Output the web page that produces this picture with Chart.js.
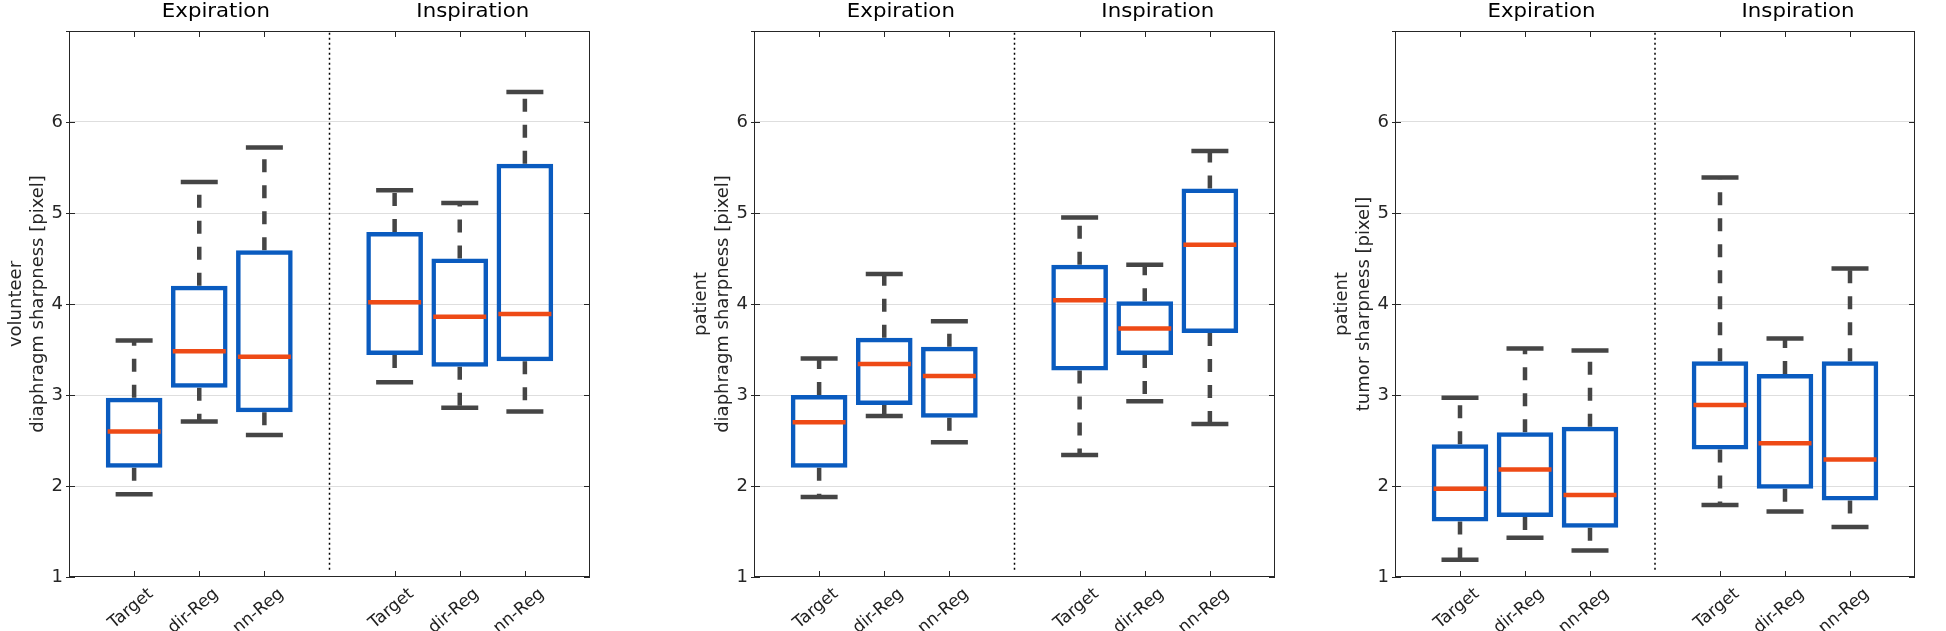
<!DOCTYPE html>
<html>
<head>
<meta charset="utf-8">
<title>sharpness boxplots</title>
<script src="https://cdn.jsdelivr.net/npm/chart.js@4.4.1/dist/chart.umd.min.js"></script>
<style>
  body { margin: 0; background: #fff; width: 1946px; height: 631px; position: relative; overflow: hidden; }
  canvas { position: absolute; top: 0; }
</style>
</head>
<body>
<canvas id="volunteerDia" width="621" height="631" style="left:0px"></canvas>
<canvas id="patientDia" width="621" height="631" style="left:685px"></canvas>
<canvas id="patientTumor" width="620" height="631" style="left:1326px"></canvas>
<script>
// Data
const methods = ['Target', 'dir-Reg', 'nn-Reg', 'Target', 'dir-Reg', 'nn-Reg'];
// slot on the x axis for each box, slot 4 is the gap between the two phases
const slot = [1, 2, 3, 5, 6, 7];
const phases = ['Expiration', 'Inspiration'];

// volunteer - diaphragm sharpness [pixel]
const volDiaMin = [1.91, 2.71, 2.56, 3.14, 2.86, 2.82];
const volDiaQ1  = [2.20, 3.08, 2.81, 3.44, 3.31, 3.37];
const volDiaMed = [2.60, 3.48, 3.42, 4.02, 3.86, 3.89];
const volDiaQ3  = [2.97, 4.20, 4.59, 4.79, 4.50, 5.54];
const volDiaMax = [3.60, 5.34, 5.72, 5.25, 5.11, 6.33];

// patient - diaphragm sharpness [pixel]
const patDiaMin = [1.88, 2.77, 2.48, 2.34, 2.93, 2.68];
const patDiaQ1  = [2.20, 2.89, 2.75, 3.27, 3.44, 3.68];
const patDiaMed = [2.70, 3.34, 3.21, 4.04, 3.73, 4.65];
const patDiaQ3  = [3.00, 3.63, 3.53, 4.43, 4.03, 5.27];
const patDiaMax = [3.40, 4.33, 3.81, 4.95, 4.43, 5.68];

// patient - tumor sharpness [pixel]
const patTumMin = [1.19, 1.43, 1.29, 1.79, 1.72, 1.55];
const patTumQ1  = [1.61, 1.66, 1.54, 2.40, 1.97, 1.84];
const patTumMed = [1.97, 2.18, 1.90, 2.89, 2.47, 2.29];
const patTumQ3  = [2.46, 2.59, 2.65, 3.37, 3.23, 3.37];
const patTumMax = [2.97, 3.51, 3.49, 5.39, 3.62, 4.39];

// dotted separator between the phases
const separatorSlot = 4;
const separatorRange = [1.08, 7];

document.addEventListener('DOMContentLoaded', function () {
  Chart.defaults.font.family = "'DejaVu Sans', sans-serif";
  Chart.defaults.font.size = 18;
  Chart.defaults.color = '#262626';

  const boxBlue = '#0a5bbf';
  const medianRed = '#ee4a16';
  const whiskerGray = '#454545';

  // matlab style frame: box around the axes, inside ticks, phase headers on top
  const framePlugin = {
    id: 'frame',
    afterDraw(chart) {
      const { ctx, chartArea: a, scales: { x, y } } = chart;
      ctx.save();
      ctx.strokeStyle = '#262626';
      ctx.lineWidth = 1;
      ctx.strokeRect(a.left + 0.5, a.top + 0.5, a.width - 1, a.height - 1);
      ctx.beginPath();
      slot.forEach(v => {
        const px = Math.round(x.getPixelForValue(v)) + 0.5;
        ctx.moveTo(px, a.bottom); ctx.lineTo(px, a.bottom - 6);
        ctx.moveTo(px, a.top); ctx.lineTo(px, a.top + 6);
      });
      y.ticks.forEach(t => {
        const py = Math.round(y.getPixelForValue(t.value)) + 0.5;
        ctx.moveTo(a.left - 3, py); ctx.lineTo(a.left + 6, py);
        ctx.moveTo(a.right, py); ctx.lineTo(a.right - 6, py);
      });
      ctx.stroke();

      // headers, the source figure is a little stretched sideways
      ctx.fillStyle = '#000';
      ctx.font = "19px 'DejaVu Sans'";
      ctx.textAlign = 'center';
      ctx.textBaseline = 'alphabetic';
      const headerAt = [2.255, 6.2];
      phases.forEach((p, i) => {
        ctx.save();
        ctx.translate(x.getPixelForValue(headerAt[i]), 17);
        ctx.scale(1.12, 1);
        ctx.fillText(p, 0, 0);
        ctx.restore();
      });
      ctx.restore();
    }
  };

  function makeChart(id, yTitle, mins, q1s, meds, q3s, maxs) {
    // whisker segments, null breaks the line between them
    const whiskers = [];
    slot.forEach((s, i) => {
      whiskers.push({ x: s, y: q3s[i] }, { x: s, y: maxs[i] }, { x: s, y: null });
      whiskers.push({ x: s, y: q1s[i] }, { x: s, y: mins[i] }, { x: s, y: null });
    });
    const caps = [];
    slot.forEach((s, i) => {
      caps.push({ x: s, y: maxs[i] }, { x: s, y: mins[i] });
    });

    const data = {
      datasets: [
        {
          // median
          type: 'scatter',
          order: 0,
          data: slot.map((s, i) => ({ x: s, y: meds[i] })),
          pointStyle: 'line',
          pointRadius: 26.5,
          pointBorderWidth: 4.5,
          pointBorderColor: medianRed,
          pointBackgroundColor: medianRed
        },
        {
          // box q1..q3
          type: 'bar',
          order: 1,
          data: slot.map((s, i) => ({ x: s, y: [q1s[i], q3s[i]] })),
          backgroundColor: 'rgba(0,0,0,0)',
          borderColor: boxBlue,
          borderWidth: 4.5,
          borderSkipped: false,
          categoryPercentage: 0.87,
          barPercentage: 1
        },
        {
          // whisker caps
          type: 'scatter',
          order: 2,
          data: caps,
          pointStyle: 'line',
          pointRadius: 18.5,
          pointBorderWidth: 4.5,
          pointBorderColor: whiskerGray,
          pointBackgroundColor: whiskerGray
        },
        {
          // dashed whiskers
          type: 'line',
          order: 3,
          data: whiskers,
          borderColor: whiskerGray,
          borderWidth: 4.5,
          borderDash: [13, 13],
          pointRadius: 0,
          spanGaps: false,
          tension: 0
        },
        {
          type: 'line',
          order: 4,
          data: separatorRange.map(v => ({ x: separatorSlot, y: v })),
          borderColor: '#000',
          borderWidth: 1.5,
          borderDash: [2, 3],
          pointRadius: 0
        }
      ]
    };

    const config = {
      type: 'bar',
      data: data,
      options: {
        responsive: false,
        animation: false,
        devicePixelRatio: 1,
        events: [],
        layout: { padding: { top: 27, right: id === 'patientTumor' ? 1 : 2, left: 0, bottom: 0 } },
        plugins: {
          legend: { display: false },
          tooltip: { enabled: false }
        },
        scales: {
          x: {
            type: 'linear',
            min: 0,
            max: 8,
            offset: false,
            grid: { display: false, drawTicks: false },
            border: { display: false },
            afterBuildTicks: scale => { scale.ticks = slot.map(v => ({ value: v })); },
            afterFit: scale => { scale.height = 54; },
            ticks: {
              autoSkip: false,
              minRotation: 40,
              maxRotation: 40,
              padding: 7,
              labelOffset: 17,
              color: '#1f1f1f',
              font: { size: 17 },
              callback: value => methods[slot.indexOf(value)]
            }
          },
          y: {
            min: 1,
            max: 7,
            afterFit: scale => { scale.width = 69; },
            border: { display: false },
            grid: {
              drawTicks: false,
              lineWidth: 1,
              color: c => (c.tick.value === 1 || c.tick.value === 7) ? 'rgba(0,0,0,0)' : '#dedede'
            },
            ticks: {
              stepSize: 1,
              padding: 6,
              callback: v => v === 7 ? '' : v
            },
            title: {
              display: true,
              text: yTitle,
              padding: { top: 6, bottom: 0 },
              font: { size: 18 }
            }
          }
        }
      },
      plugins: [framePlugin]
    };

    return new Chart(document.getElementById(id), config);
  }

  makeChart('volunteerDia', ['volunteer', 'diaphragm sharpness [pixel]'],
    volDiaMin, volDiaQ1, volDiaMed, volDiaQ3, volDiaMax);
  makeChart('patientDia', ['patient', 'diaphragm sharpness [pixel]'],
    patDiaMin, patDiaQ1, patDiaMed, patDiaQ3, patDiaMax);
  makeChart('patientTumor', ['patient', 'tumor sharpness [pixel]'],
    patTumMin, patTumQ1, patTumMed, patTumQ3, patTumMax);
});
</script>
</body>
</html>
